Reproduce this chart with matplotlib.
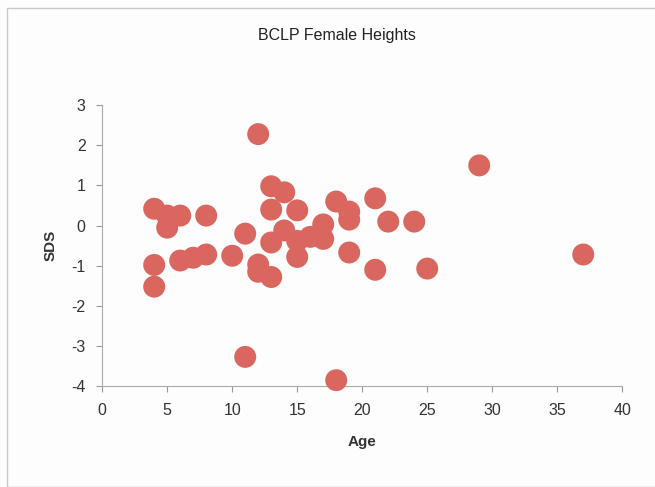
import matplotlib.pyplot as plt
from matplotlib.patches import Rectangle

# BCLP female heights: age vs SDS
ages = [4, 4, 4, 5, 5, 6, 6, 7, 8, 8, 10, 11, 11, 12, 12, 12,
        13, 13, 13, 13, 14, 14, 15, 15, 15, 16, 17, 17, 18, 18,
        19, 19, 19, 21, 21, 22, 24, 25, 29, 37]
sds = [0.42, -0.98, -1.52, 0.25, -0.05, 0.25, -0.87, -0.8, 0.25, -0.72,
       -0.75, -0.2, -3.27, 2.28, -0.97, -1.15,
       0.98, 0.4, -0.42, -1.28, 0.83, -0.12, 0.38, -0.38, -0.78,
       -0.28, 0.03, -0.33, 0.6, -3.85,
       0.35, 0.15, -0.67, 0.68, -1.1, 0.1, 0.1, -1.07, 1.5, -0.72]

xticks = [0, 5, 10, 15, 20, 25, 30, 35, 40]
yticks = [-4, -3, -2, -1, 0, 1, 2, 3]

plt.rcParams['font.family'] = ['Liberation Sans', 'DejaVu Sans']
plt.rcParams['axes.unicode_minus'] = False

fig = plt.figure(figsize=(6.55, 4.87), dpi=100)
fig.patch.set_facecolor('#fdfdfd')
fig.patches.append(Rectangle((0.011, 0.0), 0.99, 0.983, transform=fig.transFigure,
                             fill=False, edgecolor='#c8c8c8', lw=1))

ax = fig.add_axes([0.156, 0.207, 0.794, 0.577])
ax.set_facecolor('#fdfdfd')
ax.scatter(ages, sds, s=250, color='#d9675f', edgecolors='none', zorder=3, clip_on=False)

ax.set_xlim(0, 40)
ax.set_ylim(-4, 3)
ax.set_xticks(xticks)
ax.set_yticks(yticks)
ax.tick_params(labelsize=11.5, colors='#999999', labelcolor='#333333', length=4, pad=8)
for s in ['top', 'right']:
    ax.spines[s].set_visible(False)
for s in ['left', 'bottom']:
    ax.spines[s].set_color('#aaaaaa')

ax.set_xlabel('Age', fontsize=11, fontweight='bold', color='#333333', labelpad=12)
ax.set_ylabel('SDS', fontsize=11, fontweight='bold', color='#333333', labelpad=10)
fig.text(0.515, 0.928, 'BCLP Female Heights', ha='center', va='center',
         fontsize=11.5, color='#222222')

fig.savefig('out.png', dpi=100, facecolor=fig.get_facecolor())
